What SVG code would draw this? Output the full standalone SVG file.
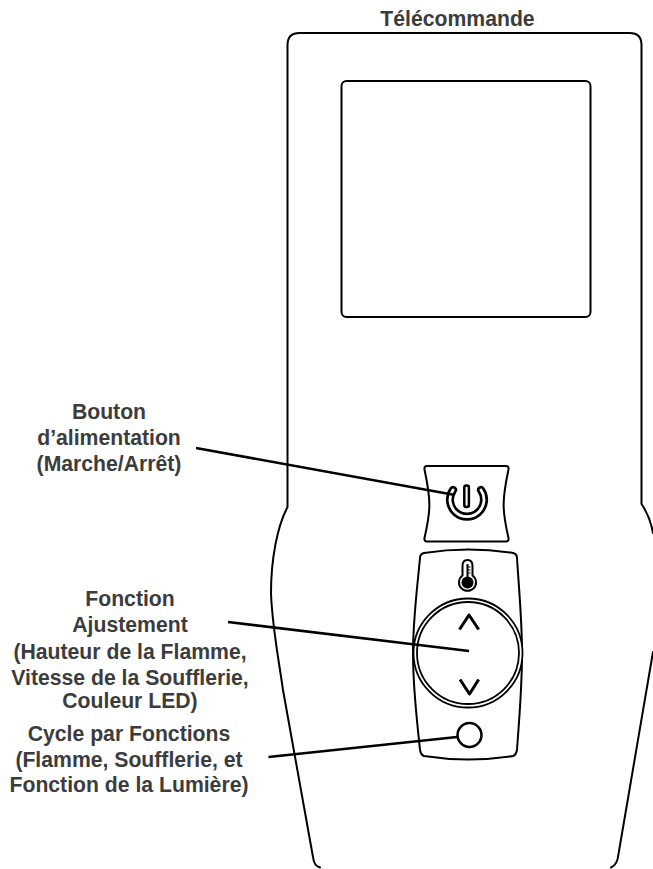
<svg xmlns="http://www.w3.org/2000/svg" width="653" height="869" viewBox="0 0 653 869">
<style>
.o{fill:none;stroke:#000;stroke-width:2;stroke-linecap:round;stroke-linejoin:round}
.k{fill:none;stroke:#000;stroke-width:2.500;stroke-linecap:butt}
.t{font-family:"Liberation Sans",Arial,sans-serif;font-weight:700;font-size:21.200px;fill:#3c3c3c;text-anchor:middle}
</style>
<rect width="653" height="869" fill="#fff"/>
<g id="remote">
<path class="o" d="M320 867.500Q314 866 313 857L283 690C278 655 272 625 271 593C271 560 277 527 287.500 507V45Q287.500 33 299.500 33H629.500Q641.500 33 641.500 45V504C647 512 651 522 653 533M653 652L618.500 854Q617.500 865 611 867.500"/>
</g>
<g id="screen">
<rect class="o" x="341.500" y="81" width="249" height="236" rx="5"/>
</g>
<g id="power-button">
<path class="o" d="M427 466H506Q509 466 508.500 469.500C502 500 502 510 508.500 538Q509 541.500 506 541.500H427Q424 541.500 424.500 538C431 510 431 500 424.500 469.500Q424 466 427 466Z"/>
<path fill="none" stroke="#000" stroke-width="8.200" stroke-linecap="round" d="M453 490A17 17 0 1 0 481 490"/>
<path fill="none" stroke="#fff" stroke-width="2.800" stroke-linecap="round" d="M453 490A17 17 0 1 0 481 490"/>
<rect x="464.300" y="485.500" width="4.600" height="21.500" rx="2" fill="#fff" stroke="#000" stroke-width="2.500"/>
</g>
<g id="adjust-panel">
<path class="o" d="M424 553Q468 546 513 553Q517 554 517 558C519 590 522 620 522 653C522 690 519 720 517 750Q516 755 513 756Q468 763 424 756Q421 755 420 750C417 720 413 690 413 653C413 620 417 590 420 558Q420 554 424 553Z"/>
<circle cx="468" cy="653" r="54.500" fill="#fff" stroke="#000" stroke-width="1.800"/>
<circle cx="468" cy="653" r="51" fill="none" stroke="#000" stroke-width="1.800"/>
<path class="o" style="stroke-width:3;stroke-linecap:butt" d="M459.500 629.500L469 615L478.700 629.500M460 679.500L469.500 694L478.700 679.500"/>
</g>
<g id="thermometer">
<path fill="none" stroke="#000" stroke-width="2" d="M462.500 575.500V566Q462.500 560 467.500 560Q472.500 560 472.500 566V575.500A8.500 8.500 0 1 1 462.500 575.500Z"/>
<circle cx="467.500" cy="582.500" r="6" fill="#000"/>
<path fill="none" stroke="#000" stroke-width="2" d="M467.500 578V564"/>
<path fill="none" stroke="#000" stroke-width="1" d="M468 567H470.500M468 570H470.500M468 573H470.500"/>
</g>
<g id="cycle-button">
<circle cx="469.500" cy="735" r="12" fill="#fff" stroke="#000" stroke-width="2.500"/>
</g>
<g id="connectors">
<path class="k" d="M196 448L455 495"/>
<path class="k" d="M228 622L469 651"/>
<path class="k" d="M268.500 757L457 737"/>
</g>
<g id="labels">
<text class="t" x="457.500" y="26">Télécommande</text>
<text class="t" x="109" y="419">Bouton</text>
<text class="t" x="109" y="445">d’alimentation</text>
<text class="t" x="109" y="471">(Marche/Arrêt)</text>
<text class="t" x="130" y="606">Fonction</text>
<text class="t" x="130" y="632">Ajustement</text>
<text class="t" x="130" y="658.500">(Hauteur de la Flamme,</text>
<text class="t" x="130" y="684.500">Vitesse de la Soufflerie,</text>
<text class="t" x="130" y="708">Couleur LED)</text>
<text class="t" x="129" y="741">Cycle par Fonctions</text>
<text class="t" x="129" y="766.500">(Flamme, Soufflerie, et</text>
<text class="t" x="129" y="792">Fonction de la Lumière)</text>
</g>
</svg>
